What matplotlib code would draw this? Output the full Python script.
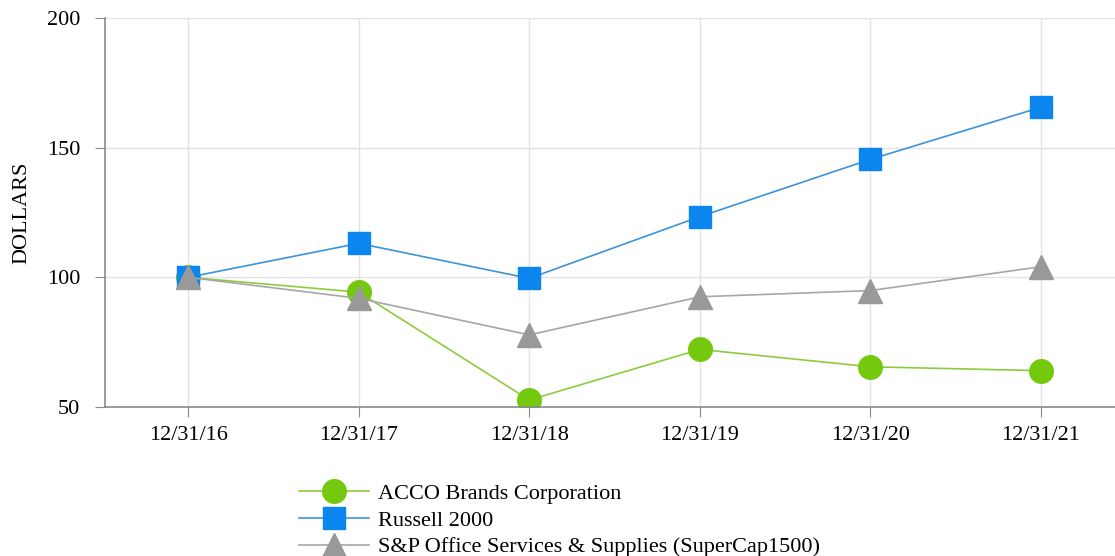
import matplotlib.pyplot as plt

dates = ["12/31/16", "12/31/17", "12/31/18", "12/31/19", "12/31/20", "12/31/21"]
acco = [100, 94.3, 52.7, 72.2, 65.5, 64.0]
russell = [100, 113.1, 99.6, 123.4, 145.5, 165.6]
sp_office = [100, 91.9, 77.8, 92.5, 94.9, 104.1]

plt.rcParams['font.family'] = ['Liberation Serif', 'DejaVu Serif']

fig = plt.figure(figsize=(11.15, 5.56), dpi=100)
ax = fig.add_axes([0.0942, 0.268, 0.9058, 0.6996])

x = range(len(dates))
ax.plot(x, acco, color='#8ccc3c', linewidth=1.2, marker='o', markersize=17,
        markerfacecolor='#74c80e', markeredgecolor='#74c80e', label='ACCO Brands Corporation')
ax.plot(x, russell, color='#3b94da', linewidth=1.2, marker='s', markersize=16,
        markerfacecolor='#0a86ee', markeredgecolor='#0a86ee', label='Russell 2000')
ax.plot(x, sp_office, color='#a6a6a6', linewidth=1.2, marker='^', markersize=17,
        markerfacecolor='#999999', markeredgecolor='#999999',
        label='S&P Office Services & Supplies (SuperCap1500)')

ax.set_xlim(-0.487, 5.434)
ax.set_ylim(50, 200)
ax.set_yticks([50, 100, 150, 200])
ax.set_xticks(list(x))
ax.set_xticklabels(dates)
ax.grid(True, color='#e3e3e3', linewidth=1)
ax.set_axisbelow(True)

for side in ['top', 'right']:
    ax.spines[side].set_visible(False)
ax.spines['left'].set_color('#8a8a8a')
ax.spines['bottom'].set_color('#8a8a8a')
ax.spines['left'].set_linewidth(1.2)
ax.spines['bottom'].set_linewidth(1.2)
ax.tick_params(axis='y', length=7, color='#8a8a8a', labelsize=16, pad=11)
ax.tick_params(axis='x', length=7, color='#8a8a8a', labelsize=16, pad=7)
ax.set_ylabel('DOLLARS', fontsize=16, labelpad=11)

fig.legend(loc='upper left', bbox_to_anchor=(0.268, 0.130), frameon=False,
           fontsize=16, handlelength=3.15, handletextpad=0.4, labelspacing=0.27,
           borderpad=0, borderaxespad=0)

fig.savefig('out.png', dpi=100)
